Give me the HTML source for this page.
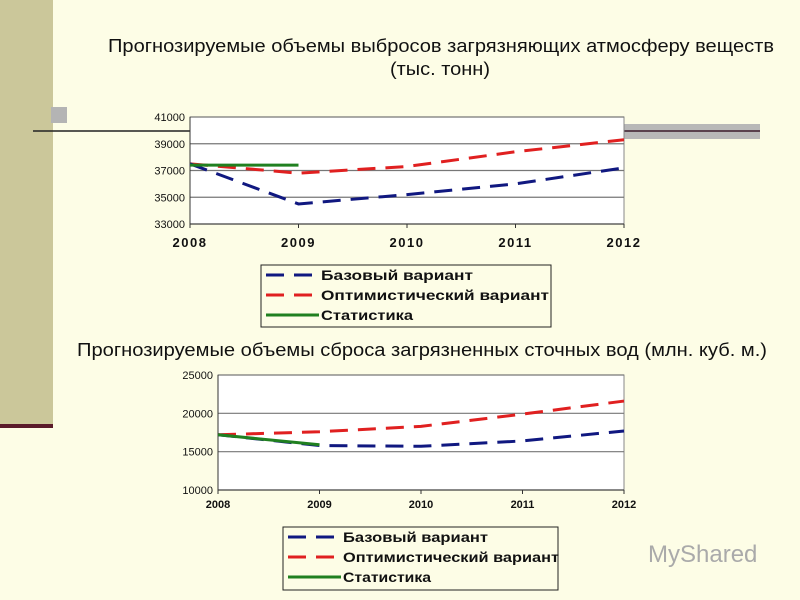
<!DOCTYPE html>
<html><head><meta charset="utf-8"><style>
body{margin:0;width:800px;height:600px;overflow:hidden;background:#fdfde6;font-family:"Liberation Sans",sans-serif}
svg{position:absolute;left:0;top:0}
</style></head><body>
<svg id="s" width="800" height="600">
<rect x="0" y="0" width="53" height="425" fill="#cbc79a"/>
<rect x="0" y="424" width="53" height="4" fill="#5a1a2a"/>
<rect x="51" y="107" width="16" height="16" fill="#b4b4b4"/>
<line x1="33" y1="131" x2="190" y2="131" stroke="#222" stroke-width="1.5"/>
<rect x="624" y="124" width="136" height="15" fill="#b8b8b8"/>
<line x1="624" y1="131" x2="760" y2="131" stroke="#3a1a2a" stroke-width="1.5"/>
<text x="108" y="52" textLength="666" lengthAdjust="spacingAndGlyphs" font-size="18" fill="#111">Прогнозируемые объемы выбросов загрязняющих атмосферу веществ</text>
<text x="390" y="75" textLength="100" lengthAdjust="spacingAndGlyphs" font-size="18" fill="#111">(тыс. тонн)</text>
<text x="77" y="356" textLength="690" lengthAdjust="spacingAndGlyphs" font-size="18" fill="#111">Прогнозируемые объемы сброса загрязненных сточных вод (млн. куб. м.)</text>
<g id="c1"></g><g id="c2"></g>
<text x="648" y="562" font-size="24" fill="#aaa">MyShared</text>
</svg>
<script>
const years=["2008","2009","2010","2011","2012"];
const air_base=[37500,34500,35200,36000,37200];
const air_opt=[37500,36800,37300,38400,39300];
const air_stat=[37400,37400];
const air_ticks=[33000,35000,37000,39000,41000];
const water_base=[17200,15800,15700,16400,17700];
const water_opt=[17200,17600,18300,19900,21600];
const water_stat=[17200,15900];
const water_ticks=[10000,15000,20000,25000];
const NS="http://www.w3.org/2000/svg";
function mk(p,t,a){const e=document.createElementNS(NS,t);for(const k in a)e.setAttribute(k,a[k]);p.appendChild(e);return e;}
function chart(g,o){
 const x=i=>o.x0+(o.x1-o.x0)*i/(years.length-1);
 const y=v=>o.y1-(o.y1-o.y0)*(v-o.min)/(o.max-o.min);
 const bg=mk(g,'rect',{x:o.x0,y:o.y0,width:o.x1-o.x0,height:o.y1-o.y0,fill:'#fff',stroke:'#888'});
 
 o.ticks.forEach(t=>{
  const l=mk(g,'line',{x1:o.x0,x2:o.x1,y1:y(t),y2:y(t),stroke:'#777','stroke-width':1.2});
  
  const tx=mk(g,'text',{x:o.x0-5,y:y(t)+4,'text-anchor':'end','font-size':11,fill:'#111'});tx.textContent=t;
  
 });
 const ax=mk(g,'line',{x1:o.x0,x2:o.x0,y1:o.y0,y2:o.y1,stroke:'#333'});
 
 const bx=mk(g,'line',{x1:o.x0,x2:o.x1,y1:o.y1,y2:o.y1,stroke:'#333'});
 
 years.forEach((yr,i)=>{
  mk(g,'line',{x1:x(i),x2:x(i),y1:o.y1,y2:o.y1+4,stroke:'#333'});
  const t=mk(g,'text',{x:x(i),y:o.y1+o.lab,'text-anchor':'middle','font-size':o.fs,'font-weight':'bold','letter-spacing':o.ls,fill:'#111'});t.textContent=yr;
  
 });
 function line(arr,col,dash,name){
  const p=mk(g,'polyline',{points:arr.map((v,i)=>x(i)+','+y(v)).join(' '),fill:'none',stroke:col,'stroke-width':3,'stroke-dasharray':dash});
  
 }
 line(o.opt,'#e02020','18 10','optimistic-line');
 line(o.base,'#101880','18 10','base-line');
 line(o.stat,'#208020','none','statistics-line');
 const L=o.leg;
 const lb=mk(g,'rect',{x:L.x,y:L.y,width:L.w,height:L.h,fill:'none',stroke:'#222'});
 
 [['Базовый вариант','#101880','18 10','legend-base',L.w1],['Оптимистический вариант','#e02020','18 10','legend-optimistic',L.w2],['Статистика','#208020','none','legend-statistics',L.w3]].forEach((e,i)=>{
  const cy=L.y+10+i*20;
  mk(g,'line',{x1:L.x+5,x2:L.x+58,y1:cy,y2:cy,stroke:e[1],'stroke-width':3,'stroke-dasharray':e[2]});
  const t=mk(g,'text',{x:L.x+60,y:cy+5,'font-size':14,'font-weight':'bold',textLength:e[4],lengthAdjust:'spacingAndGlyphs',fill:'#111'});t.textContent=e[0];
  
 });
}
chart(document.getElementById('c1'),{x0:190,x1:624,y0:117,y1:224,min:33000,max:41000,ticks:air_ticks,base:air_base,opt:air_opt,stat:air_stat,lab:23,fs:13,ls:1.5,leg:{x:261,y:265,w:290,h:62,w1:152,w2:228,w3:92}});
chart(document.getElementById('c2'),{x0:218,x1:624,y0:375,y1:490,min:10000,max:25000,ticks:water_ticks,base:water_base,opt:water_opt,stat:water_stat,lab:18,fs:11,ls:0,leg:{x:283,y:527,w:275,h:63,w1:145,w2:216,w3:88}});
</script>
</body></html>
